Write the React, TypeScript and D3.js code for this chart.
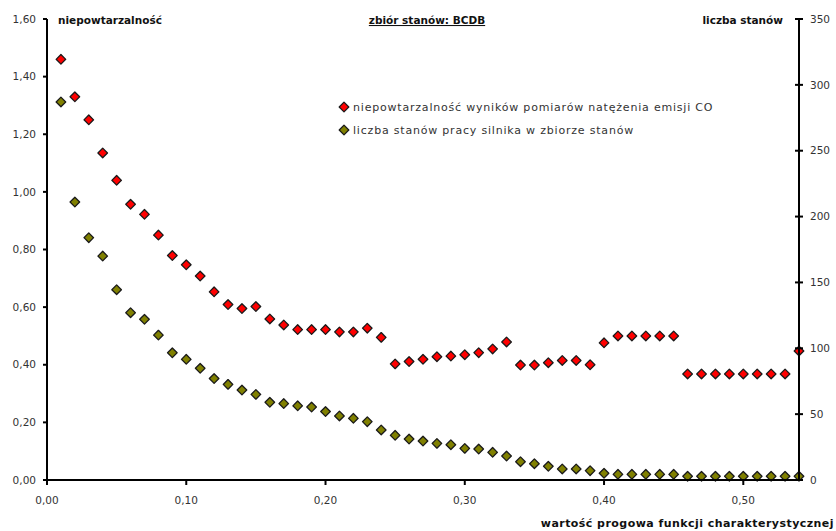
import * as d3 from "d3";

// progi funkcji charakterystycznej 0,01 ... 0,54
const thresholds = [
  0.01, 0.02, 0.03, 0.04, 0.05, 0.06, 0.07, 0.08, 0.09, 0.1,
  0.11, 0.12, 0.13, 0.14, 0.15, 0.16, 0.17, 0.18, 0.19, 0.2,
  0.21, 0.22, 0.23, 0.24, 0.25, 0.26, 0.27, 0.28, 0.29, 0.3,
  0.31, 0.32, 0.33, 0.34, 0.35, 0.36, 0.37, 0.38, 0.39, 0.4,
  0.41, 0.42, 0.43, 0.44, 0.45, 0.46, 0.47, 0.48, 0.49, 0.5,
  0.51, 0.52, 0.53, 0.54,
];

// niepowtarzalność (lewa oś)
const uniqueness = [
  1.46, 1.33, 1.25, 1.135, 1.04, 0.957, 0.922, 0.85, 0.779, 0.747,
  0.708, 0.653, 0.609, 0.595, 0.602, 0.559, 0.538, 0.522, 0.522, 0.522,
  0.514, 0.514, 0.527, 0.495, 0.403, 0.411, 0.419, 0.428, 0.43, 0.435,
  0.442, 0.455, 0.479, 0.399, 0.399, 0.407, 0.415, 0.415, 0.4, 0.476,
  0.5, 0.5, 0.5, 0.5, 0.5, 0.368, 0.368, 0.368, 0.368, 0.368,
  0.368, 0.368, 0.368, 0.448,
];

// liczba stanów (prawa oś)
const stateCount = [
  287, 211, 184, 170, 144.5, 127, 122, 110, 96.6, 91.6,
  84.8, 77, 72.6, 68.3, 65, 59, 58, 56.3, 55.4, 52,
  48.6, 46.8, 44.3, 38, 33.9, 31.1, 29.6, 27.8, 26.8, 24,
  23.5, 21, 18.2, 13.9, 12.4, 10.4, 8.4, 8.4, 7.1, 5.1,
  4.3, 4.3, 4.3, 4.3, 4.3, 2.8, 2.8, 2.8, 2.8, 2.8,
  2.8, 2.8, 2.8, 2.8,
];

const xTicks = [0, 0.1, 0.2, 0.3, 0.4, 0.5];
const leftTicks = [0, 0.2, 0.4, 0.6, 0.8, 1.0, 1.2, 1.4, 1.6];
const rightTicks = [0, 50, 100, 150, 200, 250, 300, 350];

const legendLabels = [
  "niepowtarzalność wyników pomiarów natężenia emisji CO",
  "liczba stanów pracy silnika w zbiorze stanów",
];
const seriesColors = ["#ff0000", "#808000"];

const W = 836;
const H = 531;
const left = 47;
const right = 799;
const top = 19;
const bottom = 480;

const tickFont = "'DejaVu Sans', Verdana, sans-serif";
const boldFont = "'DejaVu Sans', Verdana, sans-serif";

export default function App() {
  const x = d3.scaleLinear().domain([0, 0.54]).range([left, right]);
  const yL = d3.scaleLinear().domain([0, 1.6]).range([bottom, top]);
  const yR = d3.scaleLinear().domain([0, 350]).range([bottom, top]);

  const marker = d3.symbol(d3.symbolSquare, 46)()!;
  const comma = (v: number, digits: number) => v.toFixed(digits).replace(".", ",");

  const dot = (key: string, cx: number, cy: number, fill: string) => (
    <path
      key={key}
      d={marker}
      transform={`translate(${cx},${cy}) rotate(45)`}
      fill={fill}
      stroke="#1a1a1a"
      strokeWidth={1.3}
      strokeLinejoin="round"
    />
  );

  return (
    <svg
      width={W}
      height={H}
      style={{ position: "absolute", left: 0, top: 0, background: "#fff" }}
    >
      {/* punkty */}
      {stateCount.map((v, i) => dot("c" + i, x(thresholds[i]), yR(v), seriesColors[1]))}
      {uniqueness.map((v, i) => dot("u" + i, x(thresholds[i]), yL(v), seriesColors[0]))}

      {/* osie */}
      <line x1={left} x2={left} y1={top} y2={bottom + 1} stroke="#000" strokeWidth={2} />
      <line x1={right} x2={right} y1={top} y2={bottom + 1} stroke="#000" strokeWidth={2} />
      <line x1={left - 1} x2={right + 1} y1={bottom} y2={bottom} stroke="#000" strokeWidth={2} />

      {leftTicks.map((t) => (
        <g key={"l" + t}>
          <line x1={left - 4} x2={left} y1={yL(t)} y2={yL(t)} stroke="#000" strokeWidth={2} />
          <text x={36} y={yL(t)} dy="0.35em" textAnchor="end" fontFamily={tickFont} fontSize={10.5} fill="#333">
            {comma(t, 2)}
          </text>
        </g>
      ))}
      {rightTicks.map((t) => (
        <g key={"r" + t}>
          <line x1={right - 4} x2={right + 4} y1={yR(t)} y2={yR(t)} stroke="#000" strokeWidth={2} />
          <text x={810} y={yR(t)} dy="0.35em" fontFamily={tickFont} fontSize={10.5} fill="#333">
            {t}
          </text>
        </g>
      ))}
      {xTicks.map((t) => (
        <g key={"x" + t}>
          <line x1={x(t)} x2={x(t)} y1={bottom} y2={bottom + 5} stroke="#000" strokeWidth={2} />
          <text x={x(t)} y={504} textAnchor="middle" fontFamily={tickFont} fontSize={10.5} fill="#333">
            {comma(t, 2)}
          </text>
        </g>
      ))}

      {/* tytuły */}
      <text x={58} y={24} fontFamily={boldFont} fontWeight="bold" fontSize={10.5} fill="#111">
        niepowtarzalność
      </text>
      <text x={783} y={24} textAnchor="end" fontFamily={boldFont} fontWeight="bold" fontSize={10.5} fill="#111">
        liczba stanów
      </text>
      <text
        x={427}
        y={24}
        textAnchor="middle"
        fontFamily={boldFont}
        fontWeight="bold"
        fontSize={10.5}
        fill="#111"
        textDecoration="underline"
      >
        zbiór stanów: BCDB
      </text>
      <text
        x={834}
        y={527}
        textAnchor="end"
        fontFamily={boldFont}
        fontWeight="bold"
        fontSize={11}
        letterSpacing={0.45}
        fill="#111"
      >
        wartość progowa funkcji charakterystycznej
      </text>

      {/* legenda */}
      {legendLabels.map((label, i) => (
        <g key={"lg" + i} transform={`translate(344,${107 + i * 23})`}>
          <path
            d={marker}
            transform="rotate(45)"
            fill={seriesColors[i]}
            stroke="#1a1a1a"
            strokeWidth={1.3}
            strokeLinejoin="round"
          />
          <text x={9} dy="0.35em" fontFamily={tickFont} fontSize={11} letterSpacing={0.8} fill="#333">
            {label}
          </text>
        </g>
      ))}
    </svg>
  );
}
